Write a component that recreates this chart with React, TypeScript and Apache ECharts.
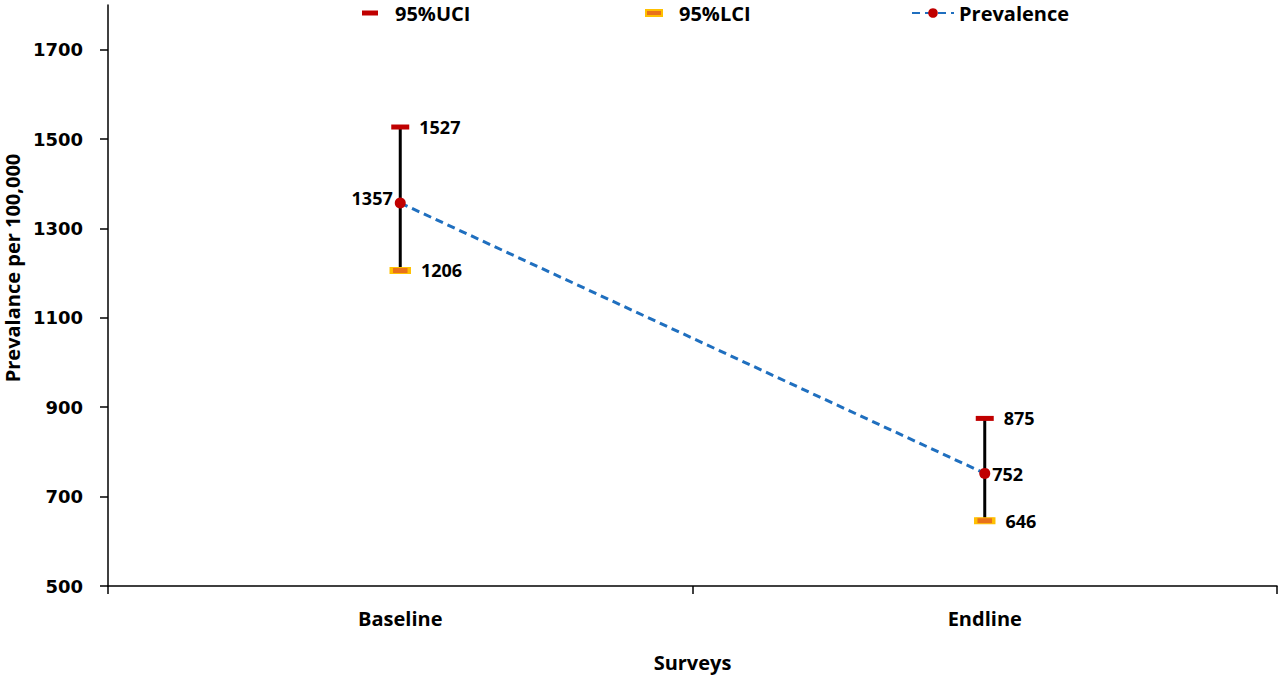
import React, { useEffect, useRef } from "react";
import * as echarts from "echarts";

const categories = ["Baseline", "Endline"];
const uciValues = [1527, 875];
const lciValues = [1206, 646];
const prevalenceValues = [1357, 752];
const yTickValues = [500, 700, 900, 1100, 1300, 1500, 1700];

const TXT = "'Open Sans', 'Noto Sans', sans-serif";
const NUM = "'DejaVu Sans', Verdana, sans-serif";

export default function App() {
  const ref = useRef<HTMLDivElement>(null);

  useEffect(() => {
    if (!ref.current) return;
    const chart = echarts.init(ref.current, undefined, { renderer: "svg" });

    const labelStyle = {
      fontFamily: TXT,
      fontWeight: "bold" as const,
      fontSize: 18,
      color: "#000",
      opacity: 1,
    };

    const legendText = (padLeft: number) => ({
      fontFamily: TXT,
      fontWeight: "bold",
      fontSize: 20,
      lineHeight: 20,
      color: "#000",
      padding: [0, 0, 0, padLeft],
    });

    const option: any = {
      animation: false,
      backgroundColor: "#fff",
      grid: { left: 108, right: 3, top: 5, bottom: 91, containLabel: false },
      legend: [
        {
          data: [{ name: "95%UCI", icon: "rect" }],
          left: 362,
          top: 3,
          padding: 0,
          itemWidth: 16,
          itemHeight: 5,
          textStyle: legendText(12),
          selectedMode: false,
        },
        {
          data: [{ name: "95%LCI", icon: "rect" }],
          left: 645,
          top: 3,
          padding: 0,
          itemWidth: 16,
          itemHeight: 6,
          textStyle: legendText(12),
          selectedMode: false,
        },
        {
          data: ["Prevalence"],
          left: 911,
          top: 3,
          padding: 0,
          itemWidth: 42,
          itemHeight: 12,
          textStyle: legendText(0),
          selectedMode: false,
        },
      ],
      xAxis: {
        type: "category",
        data: categories,
        boundaryGap: true,
        axisLine: { show: true, lineStyle: { color: "#000", width: 1.5 } },
        axisTick: { show: true, length: 8, lineStyle: { color: "#000", width: 1.5 } },
        axisLabel: {
          margin: 22,
          fontFamily: TXT,
          fontWeight: "bold",
          fontSize: 20,
          color: "#000",
        },
        splitLine: { show: false },
        name: "Surveys",
        nameLocation: "middle",
        nameGap: 66,
        nameTextStyle: { fontFamily: TXT, fontWeight: "bold", fontSize: 20, color: "#000" },
      },
      yAxis: {
        type: "value",
        min: 500,
        max: 1800,
        axisLine: { show: true, lineStyle: { color: "#000", width: 1.5 } },
        axisTick: {
          show: true,
          length: 8,
          customValues: yTickValues,
          lineStyle: { color: "#000", width: 1.5 },
        },
        axisLabel: {
          customValues: yTickValues,
          formatter: (v: number) => String(v),
          margin: 25,
          fontFamily: NUM,
          fontWeight: "bold",
          fontSize: 18,
          color: "#000",
        },
        splitLine: { show: false },
      },
      graphic: [
        {
          type: "text",
          x: 12,
          y: 268,
          rotation: Math.PI / 2,
          style: {
            text: "Prevalance per 100,000",
            fontFamily: TXT,
            fontWeight: "bold",
            fontSize: 20,
            fill: "#000",
            textAlign: "center",
            textVerticalAlign: "middle",
          },
        },
      ],
      series: [
        {
          name: "CI",
          type: "custom",
          z: 1,
          data: categories.map((_, i) => [i, lciValues[i], uciValues[i]]),
          encode: { x: 0, y: [1, 2] },
          renderItem: (params: any, api: any) => {
            const lo = api.coord([api.value(0), api.value(1)]);
            const hi = api.coord([api.value(0), api.value(2)]);
            return {
              type: "line",
              shape: { x1: lo[0], y1: lo[1], x2: hi[0], y2: hi[1] },
              style: { stroke: "#000", lineWidth: 3 },
            };
          },
          silent: true,
        },
        {
          name: "95%UCI",
          type: "scatter",
          z: 3,
          symbol: "rect",
          symbolSize: [18, 5],
          itemStyle: { color: "#C00000", opacity: 1 },
          data: uciValues,
          label: { show: true, position: "right", distance: 10, ...labelStyle },
        },
        {
          name: "95%LCI",
          type: "scatter",
          z: 3,
          symbol: "rect",
          symbolSize: [18, 6],
          itemStyle: { color: "#E8711A", borderColor: "#FFC000", borderWidth: 2, opacity: 1 },
          data: lciValues,
          label: { show: true, position: "right", distance: 10, ...labelStyle },
        },
        {
          name: "Prevalence",
          type: "line",
          z: 4,
          symbol: "circle",
          symbolSize: 11,
          lineStyle: { color: "#1F6FBF", width: 3, type: [8, 5] },
          itemStyle: { color: "#C00000" },
          data: prevalenceValues.map((v, i) => ({
            value: v,
            label: {
              show: true,
              position: i === 0 ? "left" : "right",
              distance: 2,
              offset: i === 0 ? [0, -5] : [0, 1],
              ...labelStyle,
            },
          })),
        },
      ],
    };

    chart.setOption(option);
    return () => chart.dispose();
  }, []);

  return (
    <div
      ref={ref}
      style={{ position: "absolute", left: 0, top: 0, width: 1280, height: 677 }}
    />
  );
}
